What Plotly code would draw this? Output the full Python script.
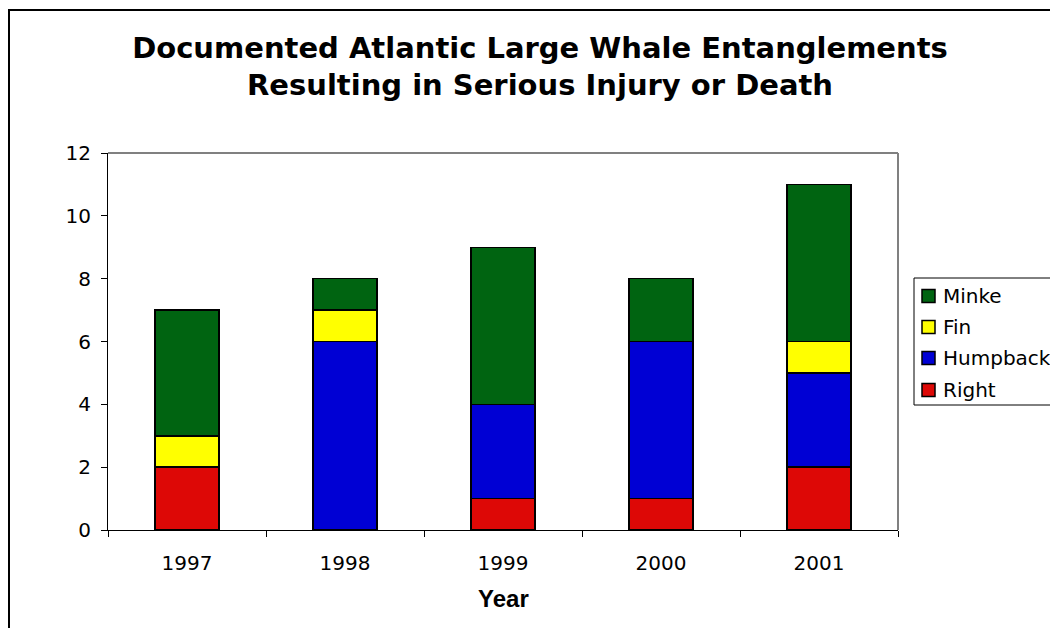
import plotly.graph_objects as go

years = ["1997", "1998", "1999", "2000", "2001"]
right = [2, 0, 1, 1, 2]
humpback = [0, 6, 3, 5, 3]
fin = [1, 1, 0, 0, 1]
minke = [4, 1, 5, 2, 5]

series = [
    ("Right", right, "#DD0806"),
    ("Humpback", humpback, "#0000D4"),
    ("Fin", fin, "#FFFF00"),
    ("Minke", minke, "#006411"),
]

# page has an 8px body margin; figure coordinates = page - 8
OFF = 8
W, H = 1050, 620
L, R, T, B = 100, 160, 145, 98
pw = W - L - R
ph = H - T - B


def px(X):
    return (X - OFF - L) / pw


def py(Y):
    return (H - B - (Y - OFF)) / ph


fig = go.Figure()
for name, vals, col in series:
    fig.add_trace(go.Bar(
        x=years, y=vals, name=name,
        marker=dict(color=col, line=dict(color="black", width=1.5)),
        showlegend=False,
    ))

fig.update_layout(
    width=W, height=H,
    margin=dict(l=L, r=R, t=T, b=B, autoexpand=False),
    barmode="stack",
    bargap=0.595,
    paper_bgcolor="white",
    plot_bgcolor="white",
    title=dict(
        text="Documented Atlantic Large Whale Entanglements<br>Resulting in Serious Injury or Death",
        font=dict(family="DejaVu Sans", size=29, color="black", weight="bold"),
        x=(540 - OFF) / W, xref="container", xanchor="center",
        y=1 - (57.5 - OFF) / H, yref="container", yanchor="middle",
    ),
    font=dict(family="DejaVu Sans", size=20, color="black"),
    showlegend=False,
)

fig.update_xaxes(
    type="category",
    showline=True, linecolor="black", linewidth=1,
    ticks="outside", tickson="boundaries", ticklen=6, tickcolor="black",
    ticklabelstandoff=15,
    showgrid=False, zeroline=False,
    tickfont=dict(family="DejaVu Sans", size=20, color="black"),
)
fig.update_yaxes(
    range=[0, 12], dtick=2, tick0=0,
    showline=True, linecolor="black", linewidth=1,
    ticks="outside", ticklen=6, tickcolor="black",
    ticklabelstandoff=6,
    showgrid=False, zeroline=False,
    tickfont=dict(family="DejaVu Sans", size=20, color="black"),
)

# plot area top/right border (gray)
fig.add_shape(type="line", xref="paper", yref="paper", x0=0, x1=1, y0=1, y1=1,
              line=dict(color="#808080", width=2))
fig.add_shape(type="line", xref="paper", yref="paper", x0=1, x1=1, y0=0, y1=1,
              line=dict(color="#808080", width=2))

# outer chart border
fig.add_shape(type="rect", xref="paper", yref="paper",
              x0=px(9), x1=2.0, y0=-1.0, y1=py(10),
              line=dict(color="black", width=2), layer="below")

# x-axis title
fig.add_annotation(
    text="<b>Year</b>", xref="paper", yref="paper",
    x=0.5, y=py(598), xanchor="center", yanchor="middle",
    showarrow=False,
    font=dict(family="Liberation Sans", size=24, color="black"),
)

# legend (box, swatches, labels) built from the series list
fig.add_shape(type="rect", xref="paper", yref="paper",
              x0=px(914), x1=px(1070), y0=py(405), y1=py(278),
              line=dict(color="black", width=1), fillcolor="white", layer="below")
row_y = [390, 358, 327, 296]  # Right, Humpback, Fin, Minke (bottom to top)
for (name, vals, col), yy in zip(series, row_y):
    fig.add_shape(type="rect", xref="paper", yref="paper",
                  x0=px(922), x1=px(935), y0=py(yy + 6.5), y1=py(yy - 6.5),
                  line=dict(color="black", width=1.5), fillcolor=col)
    fig.add_annotation(text=name, xref="paper", yref="paper",
                       x=px(941), y=py(yy), xanchor="left", yanchor="middle",
                       showarrow=False,
                       font=dict(family="DejaVu Sans", size=20, color="black"))

fig.write_html("out.html")
